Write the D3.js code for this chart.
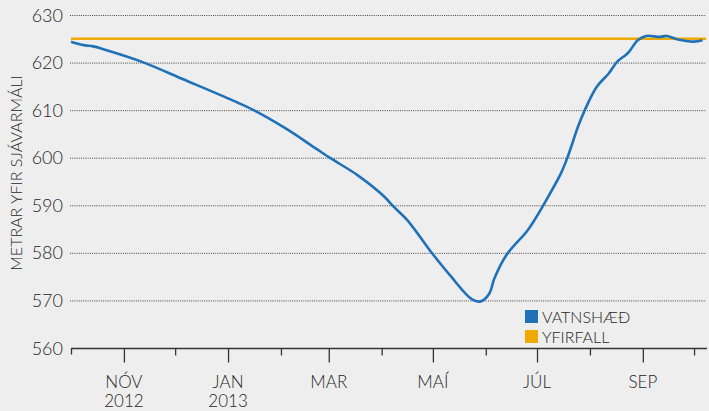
<!DOCTYPE html>
<html><head><meta charset="utf-8">
<script src="https://cdn.jsdelivr.net/npm/d3@7"></script>
<style>
html,body{margin:0;padding:0;background:#eeeeee;}
svg{display:block;font-family:Lato,"Open Sans",sans-serif;font-weight:300;}
</style></head>
<body><svg id="c" width="709" height="411"></svg>
<script>
const dates = ["2012-10-01","2012-10-08","2012-10-14","2012-10-20","2012-11-12","2012-12-05","2013-01-04","2013-01-16","2013-02-04","2013-02-22","2013-03-02","2013-03-18","2013-04-02","2013-04-08","2013-04-16","2013-05-01","2013-05-11","2013-05-24","2013-05-29","2013-06-03","2013-06-06","2013-06-13","2013-06-25","2013-06-29","2013-07-05","2013-07-15","2013-07-19","2013-07-25","2013-07-29","2013-08-05","2013-08-12","2013-08-17","2013-08-22","2013-08-24","2013-08-29","2013-09-03","2013-09-11","2013-09-15","2013-09-21","2013-10-01","2013-10-06"];
const vatnshaed = [624.4,623.7,623.4,622.8,620.1,616.6,612.0,610.0,606.1,601.8,599.9,596.3,592.0,589.7,586.9,579.7,575.3,570.2,569.8,571.4,574.6,579.5,584.5,586.6,590.2,596.7,600.2,606.5,610.0,614.9,617.7,620.2,621.6,622.3,624.7,625.6,625.4,625.6,624.9,624.4,624.7];
const yfirfall = 625;
const yTicks = [560,570,580,590,600,610,620,630];
const majorTicks = ["2012-11-01","2013-01-01","2013-03-01","2013-05-01","2013-07-01","2013-09-01"];
const majorLabels = [["NÓV","2012"],["JAN","2013"],["MAR"],["MAÍ"],["JÚL"],["SEP"]];
const minorTicks = ["2012-12-01","2013-02-01","2013-04-01","2013-06-01","2013-08-01","2013-10-01"];
const legendLabels = ["VATNSHÆÐ","YFIRFALL"];
const colors = ["#1f72b8","#eeaa00"];
const yTitle = "METRAR YFIR SJÁVARMÁLI";
const textColor = "#262626";

const parse = d3.timeParse("%Y-%m-%d");
const svg = d3.select("#c");
const x = d3.scaleTime().domain([parse("2012-10-01"), parse("2013-10-08")]).range([71, 706]);
const y = d3.scaleLinear().domain([560, 630]).range([348, 15]);

// grid
svg.append("g").selectAll("line").data(yTicks.filter(d=>d>560)).join("line")
  .attr("x1",70).attr("x2",706).attr("y1",d=>y(d)+0.5).attr("y2",d=>y(d)+0.5)
  .attr("stroke","#444").attr("stroke-width",1).attr("stroke-dasharray","1,1.2");

// y labels
const ya = d3.axisLeft(y).tickValues(yTicks).tickSize(0).tickPadding(7);
const yg = svg.append("g").attr("transform","translate(70,0)").call(ya);
yg.select(".domain").remove();
yg.selectAll("text").attr("font-size",18).attr("fill",textColor).attr("font-family","Lato,'Open Sans',sans-serif").attr("font-weight",300).attr("dy","0.34em");

// x axis
const axY = 348.5;
svg.append("line").attr("x1",71).attr("x2",707).attr("y1",axY).attr("y2",axY).attr("stroke","#333").attr("stroke-width",1.3);
svg.append("line").attr("x1",71.5).attr("x2",71.5).attr("y1",axY).attr("y2",axY+6).attr("stroke","#333").attr("stroke-width",1.3);
const xMaj = d3.axisBottom(x).tickValues(majorTicks.map(parse)).tickSize(14).tickFormat("");
const gM = svg.append("g").attr("transform",`translate(0,${axY})`).call(xMaj);
gM.select(".domain").remove();
gM.selectAll("line").attr("stroke","#333").attr("stroke-width",1.3);
const xMin = d3.axisBottom(x).tickValues(minorTicks.map(parse)).tickSize(7).tickFormat("");
const gm = svg.append("g").attr("transform",`translate(0,${axY})`).call(xMin);
gm.select(".domain").remove();
gm.selectAll("line").attr("stroke","#333").attr("stroke-width",1.3);

const lbl = svg.append("g").selectAll("text").data(majorTicks.map((d,i)=>({d:parse(d),l:majorLabels[i]}))).join("text")
  .attr("x",d=>x(d.d)).attr("y",388).attr("text-anchor","middle").attr("font-size",17).attr("fill",textColor);
lbl.selectAll("tspan").data(d=>d.l.map(t=>({t,x:x(d.d)}))).join("tspan")
  .attr("x",d=>d.x).attr("dy",(d,i)=>i?19:0).text(d=>d.t);

// y title
svg.append("text").attr("transform","translate(22,173) rotate(-90)").attr("text-anchor","middle")
  .attr("font-size",16).attr("fill",textColor).text(yTitle);

// lines
svg.append("line").attr("x1",x.range()[0]).attr("x2",x.range()[1]).attr("y1",y(yfirfall)).attr("y2",y(yfirfall))
  .attr("stroke",colors[1]).attr("stroke-width",2.6);
const data = dates.map((d,i)=>({d:parse(d),v:vatnshaed[i]}));
svg.append("path").datum(data).attr("fill","none").attr("stroke",colors[0]).attr("stroke-width",2.6)
  .attr("d",d3.line().x(d=>x(d.d)).y(d=>y(d.v)).curve(d3.curveCatmullRom.alpha(0.5)));

// legend
const lg = svg.append("g").selectAll("g").data(legendLabels).join("g")
  .attr("transform",(d,i)=>`translate(525,${310+i*20})`);
lg.append("rect").attr("width",13).attr("height",13).attr("fill",(d,i)=>colors[i]);
lg.append("text").attr("x",17).attr("y",12.5).attr("font-size",16).attr("fill",textColor).text(d=>d);
</script></body></html>
